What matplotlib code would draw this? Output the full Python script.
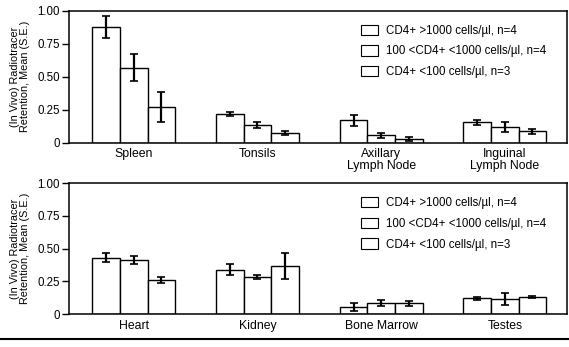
import numpy as np
import matplotlib
matplotlib.use('Agg')
import matplotlib.pyplot as plt
from matplotlib.patches import Patch

plt.rcParams['font.family'] = ['Liberation Sans', 'DejaVu Sans']

# Data
groups = ['CD4+ >1000 cells/\u00b5l, n=4',
          '100 <CD4+ <1000 cells/\u00b5l, n=4',
          'CD4+ <100 cells/\u00b5l, n=3']

top_organs = ['Spleen', 'Tonsils', 'Axillary\nLymph Node', 'Inguinal\nLymph Node']
top_means = [[0.88, 0.22, 0.17, 0.155],
             [0.57, 0.137, 0.055, 0.12],
             [0.27, 0.075, 0.028, 0.085]]
top_se = [[0.085, 0.016, 0.042, 0.02],
          [0.10, 0.023, 0.017, 0.04],
          [0.115, 0.017, 0.017, 0.022]]

bot_organs = ['Heart', 'Kidney', 'Bone Marrow', 'Testes']
bot_means = [[0.43, 0.34, 0.055, 0.122],
             [0.415, 0.285, 0.085, 0.113],
             [0.26, 0.37, 0.082, 0.13]]
bot_se = [[0.035, 0.043, 0.03, 0.012],
          [0.032, 0.017, 0.02, 0.045],
          [0.025, 0.10, 0.02, 0.008]]

yticks = [0, 0.25, 0.5, 0.75, 1.0]
yticklabels = ['0', '0.25', '0.50', '0.75', '1.00']

fig = plt.figure(figsize=(5.69, 3.47), dpi=100)
ax_top = fig.add_axes([0.122, 0.589, 0.874, 0.3795])
ax_bot = fig.add_axes([0.122, 0.095, 0.874, 0.3767])

width = 0.223
x = np.arange(4)


def draw_panel(ax, organs, means, se):
    for i in range(3):
        pos = x + (i - 1) * width
        ax.bar(pos, means[i], width, color='white', edgecolor='black', linewidth=1.0)
        ax.errorbar(pos, means[i], yerr=se[i], fmt='none', ecolor='black',
                    elinewidth=1.6, capsize=3, capthick=1.2)
    ax.set_xlim(-0.52, 3.5)
    ax.set_ylim(0, 1.0)
    ax.set_xticks(x)
    ax.set_xticklabels(organs, fontsize=8.8, linespacing=1.0)
    ax.tick_params(axis='x', length=0, pad=4)
    ax.set_yticks(yticks)
    ax.set_yticklabels(yticklabels, fontsize=8.3)
    ax.tick_params(axis='y', length=5, width=1.0, pad=2)
    for s in ax.spines.values():
        s.set_linewidth(1.1)
    ax.set_ylabel('(In Vivo) Radiotracer\nRetention, Mean (S.E.)', fontsize=7.8, labelpad=5,
                  linespacing=1.0)
    handles = [Patch(facecolor='white', edgecolor='black', linewidth=0.8) for _ in groups]
    ax.legend(handles, groups, loc='upper left', bbox_to_anchor=(0.575, 0.94),
              frameon=False, fontsize=8.3, borderpad=0, handlelength=1.5,
              handleheight=1.0, handletextpad=0.7, labelspacing=0.75)


draw_panel(ax_top, top_organs, top_means, top_se)
draw_panel(ax_bot, bot_organs, bot_means, bot_se)

fig.add_artist(plt.Line2D([0, 1], [0.022, 0.022], color='black', linewidth=1.5,
                          transform=fig.transFigure))

fig.savefig('out.png', dpi=100)
